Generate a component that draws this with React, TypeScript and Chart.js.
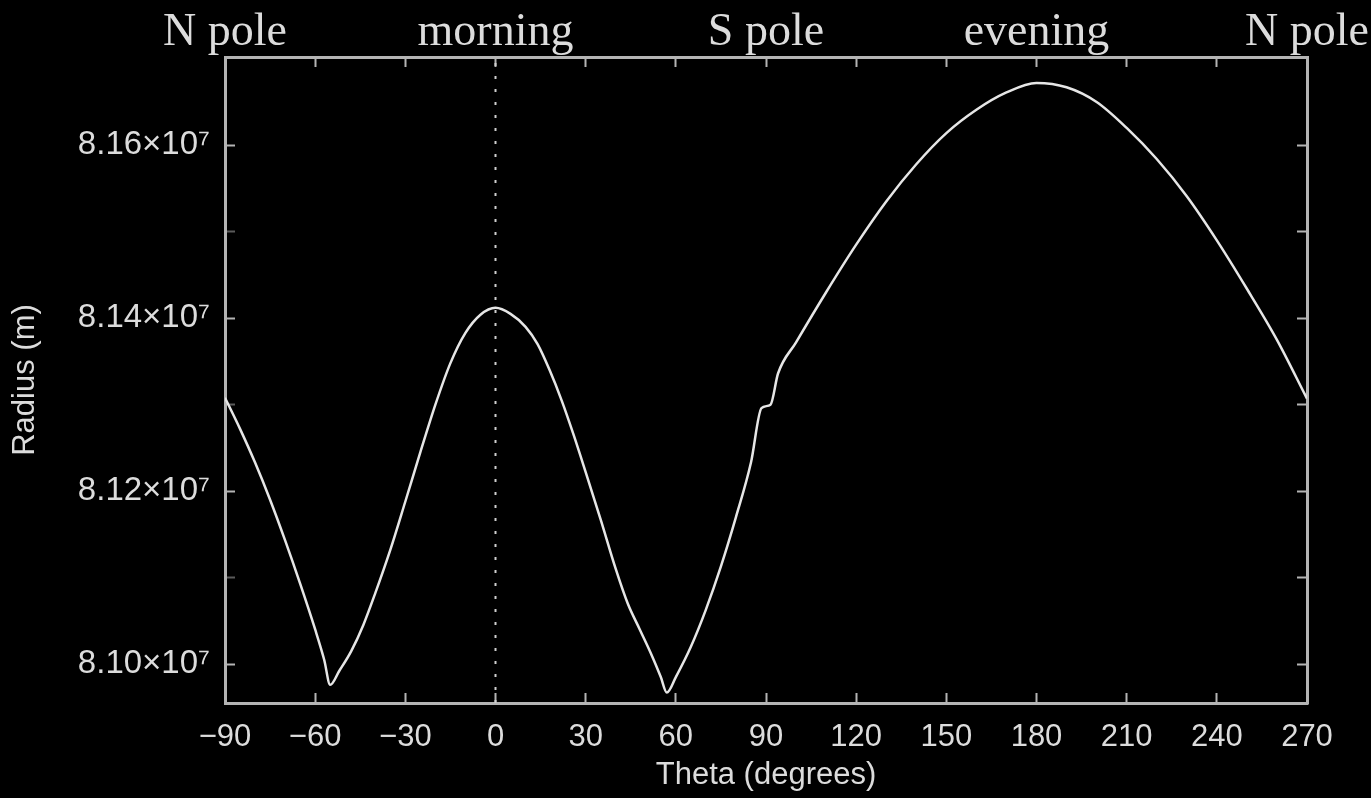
import React, { useEffect, useRef } from 'react';
import { Chart, registerables } from 'chart.js';

Chart.register(...registerables);

// Orbit radius versus local-time angle
const thetaDeg = [
  -90, -85, -80, -75, -70, -65, -60, -57, -55, -52, -48, -44, -40, -35, -30, -25, -20, -15, -10, -5, 0,
  5, 10, 14, 18, 22, 26, 30, 35, 40, 44, 48, 52, 55, 57, 60, 65, 70, 75, 80, 85, 88.5, 91.5, 94,
  100, 110, 120, 130, 140, 150, 160, 170, 180, 190, 200, 210, 220, 230, 240, 250, 260, 270,
];
const radiusM = [
  81308000, 81272000, 81233000, 81190000, 81143000, 81093000, 81040000, 81005000, 80976000,
  80992000, 81015000, 81045000, 81082000, 81132000, 81188000, 81245000, 81300000, 81348000,
  81383000, 81404000, 81412000,
  81405000, 81390000, 81370000, 81340000, 81305000, 81265000, 81222000, 81167000, 81110000,
  81070000, 81040000, 81010000, 80985000, 80967000, 80985000, 81020000, 81063000, 81113000,
  81170000, 81233000, 81296000, 81300000, 81336000,
  81372000, 81430000, 81485000, 81535000, 81578000, 81614000, 81641000, 81661000, 81672000,
  81667000, 81650000, 81620000, 81584000, 81541000, 81490000, 81434000, 81375000, 81307000,
];

const xTickValues = [-90, -60, -30, 0, 30, 60, 90, 120, 150, 180, 210, 240, 270];
const yTickValues = [81000000, 81100000, 81200000, 81300000, 81400000, 81500000, 81600000];
const topLabelAngles = [-90, 0, 90, 180, 270];
const topLabelTexts = ['N pole', 'morning', 'S pole', 'evening', 'N pole'];
const markerAngle = 0;

const X_MIN = -90;
const X_MAX = 270;
const Y_MIN = 80955000;
const Y_MAX = 81702000;

const TEXT = '#dcdcdc';
const AXIS = '#b4b4b4';
const SANS = '"Liberation Sans", Arial, sans-serif';
const SERIF = '"Liberation Serif", "Times New Roman", serif';

const boxSize = (w?: number, h?: number) => (scale: any) => {
  if (w !== undefined) scale.width = w;
  if (h !== undefined) scale.height = h;
  scale.paddingLeft = 0;
  scale.paddingRight = 0;
  scale.paddingTop = 0;
  scale.paddingBottom = 0;
};

const setTicks = (values: number[]) => (scale: any) => {
  scale.ticks = values.map((v) => ({ value: v }));
};

const fmtTheta = (v: number) => (v < 0 ? '\u2212' + Math.abs(v) : String(v));
const fmtRadius = (v: number, i: number) =>
  i % 2 === 0 ? (Math.round(v / 1e5) / 100).toFixed(2) + '\u00d710\u2077' : '';

export default function App() {
  const canvasRef = useRef<HTMLCanvasElement | null>(null);

  useEffect(() => {
    const canvas = canvasRef.current;
    if (!canvas) return;

    const curve = thetaDeg.map((t, i) => ({ x: t, y: radiusM[i] }));
    const marker = [
      { x: markerAngle, y: Y_MIN },
      { x: markerAngle, y: Y_MAX },
    ];

    const inwardGrid = {
      display: true,
      drawOnChartArea: false,
      drawTicks: true,
      tickLength: -10,
      tickWidth: 2,
      tickColor: AXIS,
    };
    const border = { display: true, color: AXIS, width: 3 };

    const chart = new Chart(canvas, {
      type: 'line',
      data: {
        datasets: [
          {
            data: curve,
            borderColor: '#e6e6e6',
            borderWidth: 2.5,
            pointRadius: 0,
            cubicInterpolationMode: 'monotone',
            xAxisID: 'x',
            yAxisID: 'y',
          },
          {
            data: marker,
            borderColor: '#d0d0d0',
            borderWidth: 2,
            borderDash: [3, 10],
            pointRadius: 0,
            xAxisID: 'x',
            yAxisID: 'y',
          },
        ],
      },
      options: {
        responsive: false,
        animation: false,
        events: [],
        layout: { padding: 0, autoPadding: false },
        plugins: {
          legend: { display: false },
          tooltip: { enabled: false },
        },
        scales: {
          x: {
            type: 'linear',
            position: 'bottom',
            min: X_MIN,
            max: X_MAX,
            afterBuildTicks: setTicks(xTickValues),
            afterFit: boxSize(undefined, 95),
            grid: inwardGrid,
            border,
            ticks: {
              color: TEXT,
              font: { family: SANS, size: 31 },
              padding: 26,
              autoSkip: false,
              maxRotation: 0,
              minRotation: 0,
              callback: (v: any) => fmtTheta(Number(v)),
            },
            title: {
              display: true,
              text: 'Theta (degrees)',
              color: TEXT,
              font: { family: SANS, size: 31 },
              padding: { top: 0, bottom: 4 },
            },
          },
          x2: {
            type: 'linear',
            display: true,
            position: 'top',
            min: X_MIN,
            max: X_MAX,
            afterBuildTicks: setTicks(xTickValues),
            afterFit: boxSize(undefined, 57),
            grid: inwardGrid,
            border,
            ticks: {
              color: TEXT,
              font: { family: SERIF, size: 46 },
              padding: 6,
              autoSkip: false,
              maxRotation: 0,
              minRotation: 0,
              callback: (v: any) => {
                const k = topLabelAngles.indexOf(Number(v));
                return k >= 0 ? topLabelTexts[k] : '';
              },
            },
          },
          y: {
            type: 'linear',
            position: 'left',
            min: Y_MIN,
            max: Y_MAX,
            afterBuildTicks: setTicks(yTickValues),
            afterFit: boxSize(225, undefined),
            grid: {
              ...inwardGrid,
              tickColor: (c: any) => (c.index % 2 === 0 ? AXIS : '#5a5a5a'),
            },
            border,
            ticks: {
              color: TEXT,
              font: { family: SANS, size: 33 },
              padding: 25,
              autoSkip: false,
              callback: (v: any, i: number) => fmtRadius(Number(v), i),
            },
            title: {
              display: true,
              text: 'Radius (m)',
              color: TEXT,
              font: { family: SANS, size: 31 },
              padding: { top: 7, bottom: 0 },
            },
          },
          y2: {
            type: 'linear',
            display: true,
            position: 'right',
            min: Y_MIN,
            max: Y_MAX,
            afterBuildTicks: setTicks(yTickValues),
            afterFit: boxSize(64, undefined),
            grid: inwardGrid,
            border,
            ticks: { display: false },
          },
        },
      } as any,
    });

    return () => chart.destroy();
  }, []);

  return (
    <div
      style={{
        position: 'fixed',
        left: 0,
        top: 0,
        width: 1371,
        height: 798,
        background: '#000',
        overflow: 'hidden',
      }}
    >
      <canvas ref={canvasRef} width={1371} height={798} style={{ display: 'block' }} />
    </div>
  );
}
